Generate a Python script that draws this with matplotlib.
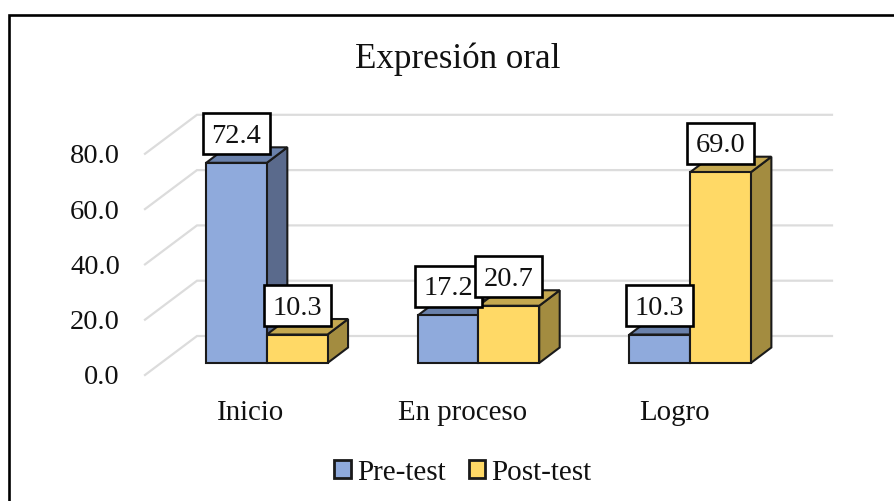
import matplotlib
matplotlib.use("Agg")
import matplotlib.pyplot as plt
from matplotlib.patches import Polygon, Rectangle
from matplotlib.transforms import Affine2D

categories = ["Inicio", "En proceso", "Logro"]
pre_test = [72.4, 17.2, 10.3]
post_test = [10.3, 20.7, 69.0]
series_names = ["Pre-test", "Post-test"]
y_ticks = [0, 20, 40, 60, 80]

W, H = 895, 501
plt.rcParams['font.family'] = ['Liberation Serif', 'DejaVu Serif']
fig = plt.figure(figsize=(W / 100, H / 100), dpi=100)

# front plane of the 3D box in pixels
L, R, Y0 = 145, 780, 375
PX_UNIT = 2.765
Y80 = Y0 - 80 * PX_UNIT
ax = fig.add_axes([L / W, 1 - Y0 / H, (R - L) / W, (Y0 - Y80) / H])
ax.set_xlim(-0.5, 2.5)
ax.set_ylim(0, 80)
for s in ax.spines.values():
    s.set_visible(False)
ax.set_xticks(range(3), categories)
ax.set_yticks(y_ticks, [f"{v:.1f}" for v in y_ticks])
ax.tick_params(axis='y', length=0, labelsize=20.5, colors='#111111', pad=18)
ax.tick_params(axis='x', length=0, labelsize=20.8, colors='#111111', pad=18)
ax.patch.set_alpha(0)

ux = 3 / (R - L)      # data per px, x
uy = 1 / PX_UNIT      # data per px, y

# gridlines
for v in y_ticks:
    ax.plot([-0.5, -0.5 + 52 * ux, 2.5 + 52 * ux], [v, v + 39 * uy, v + 39 * uy],
            color='#DCDCDC', lw=1.6, clip_on=False, zorder=1, solid_joinstyle='miter')

FX, FY = 16 * ux, 12 * uy     # bar front-face offset from front plane
DX, DY = 20.5 * ux, 15.5 * uy  # bar depth
BW = 60.7 * ux
EDGE = dict(edgecolor='#1a1a1a', linewidth=1.5, joinstyle='miter', clip_on=False)


def bar3d(x0, v, front, top, side, z):
    xl, xr = x0 + FX, x0 + FX + BW
    yb, yt = FY, FY + v
    ax.add_patch(Polygon([(xr, yb), (xr + DX, yb + DY), (xr + DX, yt + DY), (xr, yt)],
                         facecolor=side, zorder=z, **EDGE))
    ax.add_patch(Polygon([(xl, yt), (xr, yt), (xr + DX, yt + DY), (xl + DX, yt + DY)],
                         facecolor=top, zorder=z, **EDGE))
    ax.add_patch(Polygon([(xl, yb), (xr, yb), (xr, yt), (xl, yt)],
                         facecolor=front, zorder=z, **EDGE))


BLUE = ('#8FAADC', '#6A81AB', '#5A6A8C')
YEL = ('#FFD966', '#C4A850', '#A38C40')
for i, (a, b) in enumerate(zip(pre_test, post_test)):
    bar3d(i - BW, a, *BLUE, 3 + i)
    bar3d(i, b, *YEL, 3.5 + i)

# data labels: a fixed-size box, anchored to the bar top through the data scale
BOX_W, BOX_H, BOX_UP, TEXT_UP = 67, 41, 29, 26.5
for i, (a, b) in enumerate(zip(pre_test, post_test)):
    for x0, v, z in ((i - BW, a, 8), (i, b, 9)):
        anchor = (x0 + FX + BW / 2, FY + v)
        px, py = ax.transData.transform(anchor)
        ax.add_patch(Rectangle((-BOX_W / 2, BOX_UP - BOX_H / 2), BOX_W, BOX_H,
                               transform=Affine2D().translate(px, py),
                               facecolor='white', edgecolor='black', lw=1.9,
                               joinstyle='miter', clip_on=False, zorder=z))
        ax.annotate(f"{v:.1f}", xy=anchor, xytext=(0, TEXT_UP * 0.72),
                    textcoords='offset points', ha='center', va='center',
                    fontsize=20.5, color='#111111', zorder=z + 0.1, annotation_clip=False)

# title
fig.text(457.5 / W, 1 - 59 / H, "Expresión oral", ha='center', va='center',
         fontsize=25.2, color='#111111')

# legend
handles = [Rectangle((0, 0), 1, 1, facecolor=BLUE[0], edgecolor='#1a1a1a', lw=2),
           Rectangle((0, 0), 1, 1, facecolor=YEL[0], edgecolor='#1a1a1a', lw=2)]
fig.legend(handles, series_names, loc='center', bbox_to_anchor=(463 / W, 1 - 472.5 / H),
           ncol=2, frameon=False, fontsize=21, handlelength=0.55, handleheight=0.55,
           handletextpad=0.22, columnspacing=0.8, labelcolor='#111111',
           borderpad=0, borderaxespad=0)

# chart frame: only the left and top edges fall inside the picture
fig.add_artist(plt.Line2D([8.7 / W, 8.7 / W, 1.01], [-0.01, 1 - 14.5 / H, 1 - 14.5 / H],
                          transform=fig.transFigure, color='black', lw=1.9,
                          solid_joinstyle='miter'))

fig.savefig("out.png", dpi=100)
